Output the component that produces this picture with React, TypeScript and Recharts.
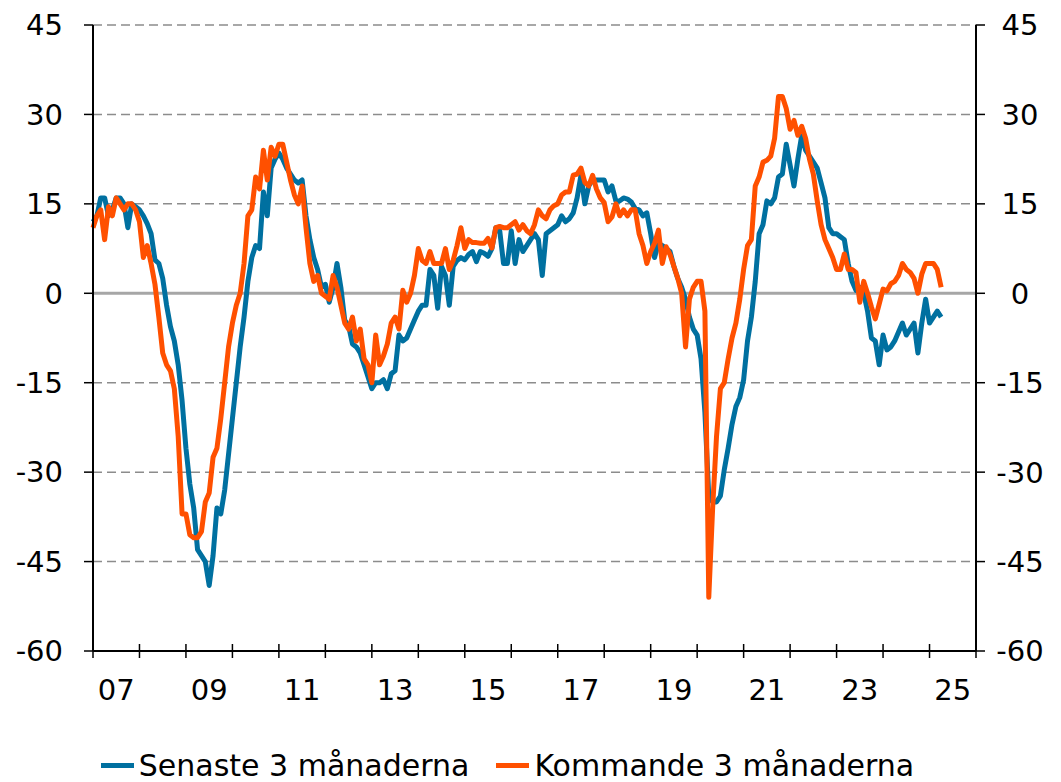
import { LineChart, Line, XAxis, YAxis, ReferenceLine, Legend } from "recharts";

// Monthly series, Jan 2007 – Apr 2025
const FIRST_YEAR = 2007;
const AXIS_YEARS = 19; // axis runs 2007 .. end of 2025

const yTicks = [-60, -45, -30, -15, 0, 15, 30, 45];
const gridValues = [-45, -30, -15, 15, 30, 45];
const yearLabels = ["07", "09", "11", "13", "15", "17", "19", "21", "23", "25"];

// Senaste 3 månaderna
const senaste = [
  12, 13, 16, 16, 13, 14, 16, 16, 15, 11, 15, 14.5, // 2007
  14, 13, 11.7, 10, 5.6, 5, 2.5, -2, -5.6, -8, -12, -18, // 2008
  -26, -32, -36, -43, -44, -45, -49, -44, -36, -37, -33, -27, // 2009
  -21, -15, -9, -4, 2, 6, 8, 7.5, 17, 13, 21, 22.5, // 2010
  23.5, 22.5, 21, 20, 19, 18.5, 19, 13, 9, 6, 4, 1, // 2011
  1.5, -1.5, 1, 5, 1, -4.5, -5.5, -8.5, -9, -10, -12, -14, // 2012
  -16, -15, -15, -14.5, -16, -13.5, -13, -7, -8, -7.5, -6, -4.5, // 2013
  -3, -2, -2, 4, 3, -2.5, 4.5, 3, -2, 4.5, 5.5, 6, // 2014
  5.6, 6.5, 7, 5.3, 7, 6.7, 6.2, 7.5, 11, 10.6, 5, 5, // 2015
  10.5, 5, 9, 7, 8, 9, 10, 9, 3, 10, 10.5, 11, // 2016
  11.5, 13, 12, 12.5, 13.5, 16, 19.8, 15, 18, 19, 19, 19, // 2017
  19, 17, 18, 15.5, 15.5, 16, 15.8, 15.3, 14.2, 14, 13, 13.5, // 2018
  10, 6, 8.4, 8, 7.5, 7, 4.5, 2.5, 1, -1, -4, -6, // 2019
  -7, -11, -20, -34, -35, -35, -34, -29.6, -26, -22, -19, -17.5, // 2020
  -14.5, -8, -4, 2, 10, 11.5, 15.5, 15, 16, 19.5, 20, 25, // 2021
  21.5, 18, 22.5, 26.5, 24, 23, 22, 21, 18.5, 16, 11, 10, // 2022
  10, 9.5, 9, 5, 2, 0.5, 1, 0, -3, -7.5, -8, -12, // 2023
  -7, -9.5, -9, -8, -6.5, -5, -7, -6, -5, -10, -5, -1, // 2024
  -5, -4, -3, -4, // 2025
];

// Kommande 3 månaderna
const kommande = [
  11, 13, 14, 9, 14.5, 13, 16, 15, 14, 15, 15, 14, // 2007
  12, 6, 8, 5, 1.5, -4, -10, -12, -13, -16, -24, -37, // 2008
  -37, -40.5, -41, -41, -40, -35, -33.5, -27.5, -26, -21, -15, -9, // 2009
  -5, -2, 0, 5, 13, 14, 19.5, 17.5, 24, 19, 24.5, 23, // 2010
  25, 25, 22, 19, 16.5, 15, 18, 11, 5, 2, 3, 0, // 2011
  -0.5, -1, 3, 1, -2, -5, -6, -4, -8, -6, -11, -12, // 2012
  -15, -7, -12, -10.5, -8.5, -5, -4, -6, 0.5, -1.5, 0, 3, // 2013
  7.5, 5.5, 5, 7, 5, 5, 5, 7.5, 4, 5.5, 8, 11, // 2014
  7.5, 9, 8.5, 8.5, 8.4, 8.4, 9.2, 7.6, 11, 11.2, 11, 11, // 2015
  11.5, 12, 10.6, 11.5, 10.5, 10, 11.5, 14, 13, 12.5, 14, 14.7, // 2016
  15, 16.5, 17, 17, 19.8, 20, 21, 18.6, 18, 19.8, 17.5, 16, // 2017
  15.2, 12, 12.8, 15, 13, 14, 13, 14, 14, 10, 8, 5, // 2018
  7, 8.4, 10.6, 5, 7.8, 6.5, 4.5, 2.5, 0, -9, -1, 1, // 2019
  2, 2, -3, -51, -36, -24, -16, -15, -11, -7.5, -5, -1, // 2020
  4, 8, 9, 18, 19.5, 22, 22.3, 23, 26, 33, 33, 31, // 2021
  27.5, 29, 26.5, 28, 26, 22.5, 20, 15.5, 11.5, 9, 7.5, 6, // 2022
  4, 4, 6.6, 4, 4, 3.5, -1.5, 2, 0, -2.3, -4.3, -1.8, // 2023
  0.7, 0.4, 1.6, 2, 3, 5, 4, 3.5, 2.5, 0, 3.2, 5, // 2024
  5, 5, 4, 1, // 2025
];

// both series share the same scale; the orange one hangs on the right axis so it is drawn
const series = [
  { key: "senaste", name: "Senaste 3 månaderna", color: "#0070A0", axis: "left" },
  { key: "kommande", name: "Kommande 3 månaderna", color: "#FF5000", axis: "right" },
];

const data = senaste.map((v, i) => ({
  t: i,
  year: FIRST_YEAR + Math.floor(i / 12),
  senaste: v,
  kommande: kommande[i],
}));

// year boundaries get a tick mark, every other year gets a label in mid-year
const xTicks: number[] = [];
for (let y = 0; y <= AXIS_YEARS; y++) {
  xTicks.push(y * 12);
  if (y % 2 === 0 && y < AXIS_YEARS) xTicks.push(y * 12 + 6);
}

const FONT = 29;

function XTick(props: any) {
  const { x, y, payload } = props;
  const v = payload.value;
  if (v % 12 === 0) {
    return <line x1={x} x2={x} y1={y - 7} y2={y + 7} stroke="#000" strokeWidth={1.5} />;
  }
  return (
    <text x={x} y={y + 49} textAnchor="middle" fontSize={FONT} fill="#000">
      {yearLabels[(v - 6) / 24]}
    </text>
  );
}

function RightTick(props: any) {
  const { x, y, payload } = props;
  return (
    <text x={x} y={y} dy="0.36em" textAnchor="middle" fontSize={FONT} fill="#000">
      {payload.value}
    </text>
  );
}

function LegendContent() {
  return (
    <div
      style={{
        display: "flex",
        justifyContent: "center",
        gap: 27,
        height: 61,
        boxSizing: "border-box",
        paddingTop: 28,
        paddingRight: 54,
        fontSize: 30,
        lineHeight: "30px",
        color: "#000",
      }}
    >
      {series.map((s) => (
        <span key={s.key} style={{ display: "flex", alignItems: "center" }}>
          <span style={{ width: 33, height: 5, background: s.color, marginRight: 5 }} />
          {s.name}
        </span>
      ))}
    </div>
  );
}

export default function App() {
  return (
    <div style={{ fontFamily: "'DejaVu Sans', Verdana, sans-serif", background: "#fff" }}>
      <LineChart width={1053} height={774} data={data} margin={{ top: 17, right: 0, bottom: 0, left: 0 }}>
        <XAxis
          dataKey="t"
          type="number"
          domain={[0, AXIS_YEARS * 12]}
          ticks={xTicks}
          interval={0}
          tick={<XTick />}
          tickLine={false}
          tickSize={0}
          tickMargin={0}
          axisLine={{ stroke: "#000", strokeWidth: 2 }}
          height={70}
        />
        <YAxis
          yAxisId="left"
          orientation="left"
          domain={[-60, 45]}
          ticks={yTicks}
          interval={0}
          width={85}
          tick={{ fontSize: FONT, fill: "#000" }}
          tickSize={9}
          tickMargin={21}
          tickLine={{ stroke: "#000", strokeWidth: 1.5 }}
          axisLine={{ stroke: "#000", strokeWidth: 2 }}
        />
        <YAxis
          yAxisId="right"
          orientation="right"
          domain={[-60, 45]}
          ticks={yTicks}
          interval={0}
          width={85}
          tick={<RightTick />}
          tickSize={9}
          tickMargin={35}
          tickLine={{ stroke: "#000", strokeWidth: 1.5 }}
          axisLine={{ stroke: "#000", strokeWidth: 2 }}
        />
        {gridValues.map((v) => (
          <ReferenceLine
            key={v}
            yAxisId="left"
            y={v}
            stroke="#8C8C8C"
            strokeWidth={1.5}
            strokeDasharray="9 5"
          />
        ))}
        <ReferenceLine yAxisId="left" y={0} stroke="#A6A6A6" strokeWidth={3} />
        {series.map((s) => (
          <Line
            key={s.key}
            yAxisId={s.axis}
            type="linear"
            dataKey={s.key}
            name={s.name}
            stroke={s.color}
            strokeWidth={5}
            strokeLinejoin="round"
            dot={false}
            isAnimationActive={false}
          />
        ))}
        <Legend verticalAlign="bottom" content={<LegendContent />} />
      </LineChart>
    </div>
  );
}
